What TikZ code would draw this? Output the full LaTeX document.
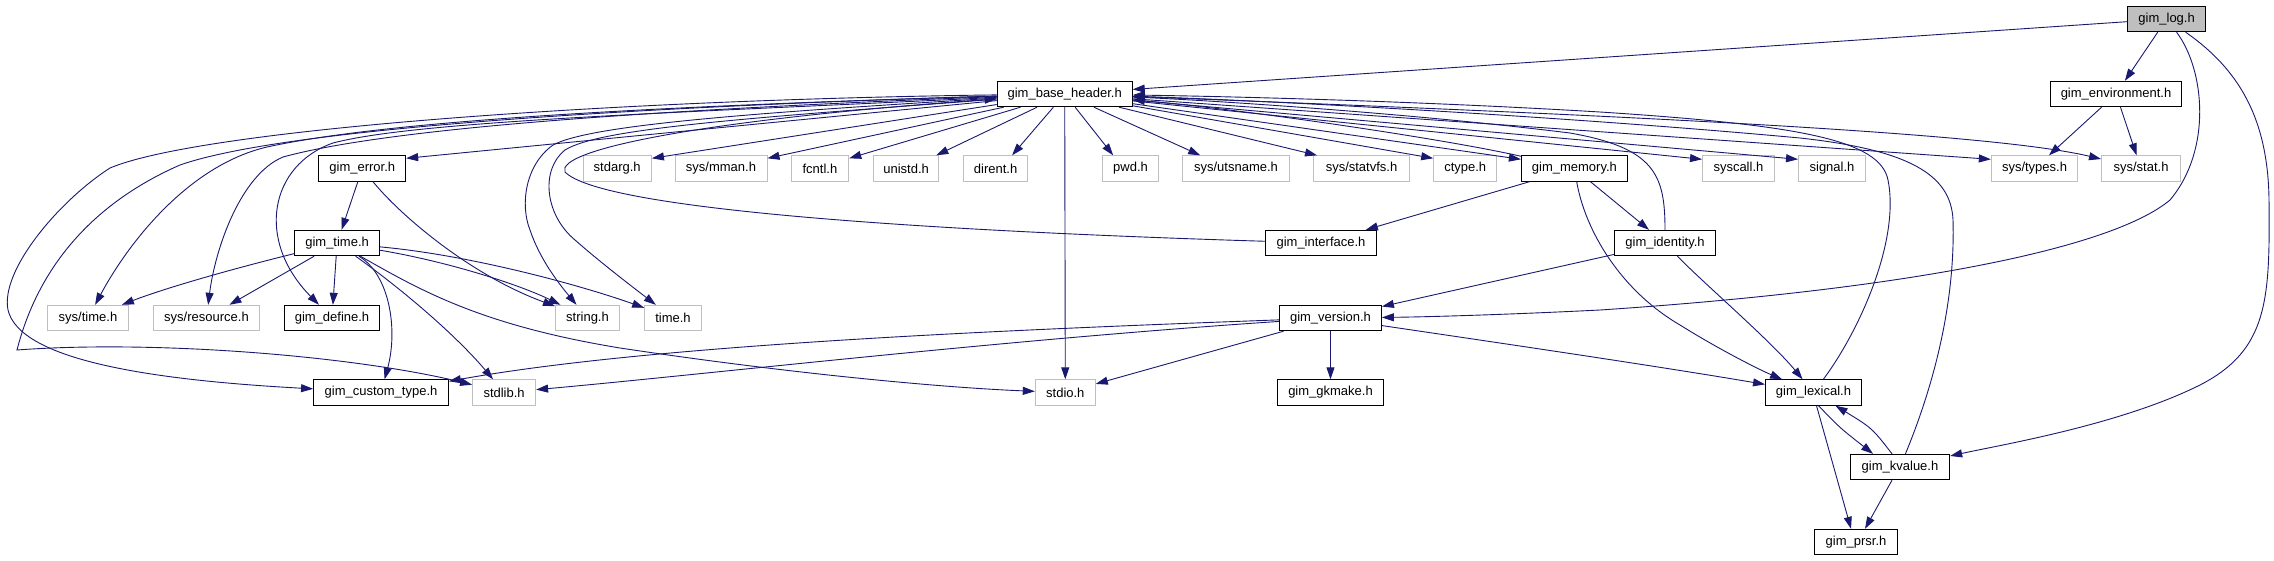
\documentclass[tikz,border=0pt]{standalone}
\usepackage{fontspec}
\setmainfont{Liberation Sans}
\usetikzlibrary{arrows.meta}
\definecolor{edgecol}{HTML}{191970}
\definecolor{grayline}{HTML}{BFBFBF}
\begin{document}
\begin{tikzpicture}[x=1pt,y=-1pt,
  hdr/.style={draw=black, line width=1pt, minimum height=25.4pt, inner sep=0pt, font=\fontsize{13}{15}\selectfont, text=black},
  sysh/.style={hdr, draw=grayline},
  cur/.style={hdr, fill=grayline},
  inc/.style={draw=edgecol, line width=0.9pt, -{Triangle[length=12pt,width=8pt]}}]
\fill[white] (0,0) rectangle (2274,560);
\useasboundingbox (0,0) rectangle (2274,560);
% row 0/1
\node[cur, minimum width=78pt] (log) at (2166.6,19) {gim\_log.h};
\node[hdr, minimum width=135pt] (base) at (1064.7,94) {gim\_base\_header.h};
\node[hdr, minimum width=131pt] (env) at (2116,94) {gim\_environment.h};
% row 2
\node[hdr, minimum width=86.7pt] (err) at (362.3,168.5) {gim\_error.h};
\node[sysh, minimum width=68.4pt] (stdarg) at (617.2,168.5) {stdarg.h};
\node[sysh, minimum width=92pt] (mman) at (721,168.5) {sys/mman.h};
\node[sysh, minimum width=57.7pt] (fcntl) at (819.9,168.5) {fcntl.h};
\node[sysh, minimum width=65.5pt] (unistd) at (906.1,168.5) {unistd.h};
\node[sysh, minimum width=64pt] (dirent) at (995.6,168.5) {dirent.h};
\node[sysh, minimum width=55.7pt] (pwd) at (1130.5,168.5) {pwd.h};
\node[sysh, minimum width=106.6pt] (utsname) at (1236,168.5) {sys/utsname.h};
\node[sysh, minimum width=96pt] (statvfs) at (1361.5,168.5) {sys/statvfs.h};
\node[sysh, minimum width=63pt] (ctype) at (1465.2,168.5) {ctype.h};
\node[hdr, minimum width=106pt] (mem) at (1574.4,168.5) {gim\_memory.h};
\node[sysh, minimum width=71.8pt] (syscall) at (1738.4,168.5) {syscall.h};
\node[sysh, minimum width=67pt] (signal) at (1832,168.5) {signal.h};
\node[sysh, minimum width=86.3pt] (types) at (2034.5,168.5) {sys/types.h};
\node[sysh, minimum width=79pt] (stat) at (2141,168.5) {sys/stat.h};
% row 3
\node[hdr, minimum width=84.8pt] (gtime) at (337.1,243) {gim\_time.h};
\node[hdr, minimum width=111pt] (iface) at (1321,243) {gim\_interface.h};
\node[hdr, minimum width=101.3pt] (ident) at (1665,243) {gim\_identity.h};
% row 4
\node[sysh, minimum width=81pt] (systime) at (88,318) {sys/time.h};
\node[sysh, minimum width=105.7pt] (sysres) at (206.5,318) {sys/resource.h};
\node[hdr, minimum width=95pt] (define) at (332,318) {gim\_define.h};
\node[sysh, minimum width=64pt] (string) at (587.5,318) {string.h};
\node[sysh, minimum width=56.7pt] (timeh) at (673,318) {time.h};
\node[hdr, minimum width=101.8pt] (version) at (1330.5,318) {gim\_version.h};
% row 5
\node[hdr, minimum width=134.8pt] (custom) at (381,392.5) {gim\_custom\_type.h};
\node[sysh, minimum width=63pt] (stdlib) at (504.1,392.5) {stdlib.h};
\node[sysh, minimum width=60pt] (stdio) at (1065.3,392.5) {stdio.h};
\node[hdr, minimum width=105.6pt] (gkmake) at (1330.5,392.5) {gim\_gkmake.h};
\node[hdr, minimum width=96pt] (lexical) at (1813.5,392.5) {gim\_lexical.h};
\node[hdr, minimum width=99.3pt] (kvalue) at (1900,467) {gim\_kvalue.h};
\node[hdr, minimum width=83pt] (prsr) at (1856,542) {gim\_prsr.h};

% gim_log.h
\draw[inc] (log) -- (base);
\draw[inc] (log) -- (env);
\draw[inc] (log) .. controls (2205,70) and (2212,150) .. (2170,200) .. controls (2110,250) and (1900,290) .. (1600,310) .. controls (1500,315) and (1420,317) .. (version);
\draw[inc] (log) .. controls (2240,70) and (2268,120) .. (2269,200) .. controls (2270,300) and (2268,350) .. (2200,385) .. controls (2120,425) and (2000,445) .. (kvalue);
% gim_environment.h
\draw[inc] (env) -- (types);
\draw[inc] (env) -- (stat);
% gim_base_header.h
\draw[inc] (base) -- ([yshift=-3pt]err.north east);
\draw[inc] (base) -- ([yshift=-3pt]stdarg.north east);
\draw[inc] (base) -- ([yshift=-3pt]mman.north east);
\draw[inc] (base) -- ([yshift=-3pt]fcntl.north east);
\draw[inc] (base) -- ([xshift=-3pt]unistd.north east);
\draw[inc] (base) -- ([xshift=-16pt]dirent.north east);
\draw[inc] (base) -- ([xshift=11pt]pwd.north west);
\draw[inc] (base) -- ([xshift=18pt]utsname.north west);
\draw[inc] (base) -- ([xshift=4pt]statvfs.north west);
\draw[inc] (base) -- ([yshift=-3pt]ctype.north west);
\draw[inc] (base) -- ([yshift=-4pt]mem.north west);
\draw[inc] (base) -- ([yshift=-4pt]syscall.north west);
\draw[inc] (base) -- ([yshift=-4pt]signal.north west);
\draw[inc] (base) -- ([yshift=-4pt]types.north west);
\draw[inc] (base) .. controls (1700,118) and (2000,135) .. (stat);
\draw[inc] (base) -- (stdio);
\draw[inc] (base) .. controls (750,113) and (590,125) .. (553,145) .. controls (525,165) and (520,205) .. (530,230) .. controls (540,260) and (560,285) .. (string);
\draw[inc] (base) .. controls (750,118) and (600,128) .. (565,150) .. controls (540,170) and (545,215) .. (575,240) .. controls (600,262) and (630,285) .. (timeh);
\draw[inc] (base) .. controls (700,105) and (400,118) .. (267,147) .. controls (190,165) and (130,240) .. (systime);
\draw[inc] (base) .. controls (700,108) and (400,125) .. (283,157) .. controls (240,175) and (215,250) .. (sysres);
\draw[inc] (base) .. controls (700,112) and (420,120) .. (333,143) .. controls (270,165) and (255,240) .. (define);
\draw[inc] (base) .. controls (600,100) and (200,130) .. (110,168) .. controls (60,200) and (0,270) .. (8,310) .. controls (20,360) and (150,380) .. (custom);
\draw[inc] (base) .. controls (600,108) and (280,130) .. (180,165) .. controls (100,200) and (40,260) .. (17,350) .. controls (150,340) and (350,355) .. (stdlib);
% gim_error.h
\draw[inc] (err) -- (gtime);
\draw[inc] (err) .. controls (400,215) and (470,275) .. (string);
% gim_time.h
\draw[inc] (gtime) .. controls (220,272) and (160,290) .. (systime);
\draw[inc] (gtime) -- (sysres);
\draw[inc] (gtime) -- (define);
\draw[inc] (gtime) .. controls (390,275) and (398,330) .. (custom);
\draw[inc] (gtime) .. controls (410,295) and (460,340) .. (stdlib);
\draw[inc] (gtime) .. controls (420,290) and (480,325) .. (620,348) .. controls (800,375) and (950,388) .. (stdio);
\draw[inc] (gtime) .. controls (450,262) and (520,285) .. (string);
\draw[inc] (gtime) .. controls (470,255) and (580,285) .. (timeh);
% gim_interface.h
\draw[inc] (iface) .. controls (900,230) and (600,208) .. (565,172) .. controls (555,150) and (700,120) .. (base);
% gim_memory.h
\draw[inc] (mem) .. controls (1450,140) and (1250,110) .. (base);
\draw[inc] (mem) -- (iface);
\draw[inc] (mem) -- (ident);
\draw[inc] (mem) .. controls (1585,230) and (1620,290) .. (1680,325) .. controls (1720,350) and (1760,370) .. (lexical);
% gim_identity.h
\draw[inc] (ident) .. controls (1665,175) and (1655,148) .. (1570,133) .. controls (1400,112) and (1200,100) .. (base);
\draw[inc] (ident) -- (version);
\draw[inc] (ident) .. controls (1700,280) and (1770,340) .. (lexical);
% gim_version.h
\draw[inc] (version) -- (stdio);
\draw[inc] (version) -- (gkmake);
\draw[inc] (version) .. controls (1500,343) and (1650,365) .. (lexical);
\draw[inc] (version) .. controls (1000,330) and (650,345) .. ([yshift=-2pt]custom.north east);
\draw[inc] (version) .. controls (1000,340) and (700,375) .. (stdlib);
% gim_lexical.h
\draw[inc] (lexical) .. controls (1860,330) and (1900,240) .. (1888,180) .. controls (1880,140) and (1800,125) .. (1600,112) .. controls (1400,100) and (1200,96) .. (base);
\draw[inc] ([xshift=5pt]lexical.south) .. controls (1840,428) .. ([xshift=-27pt]kvalue.north);
\draw[inc] ([xshift=3pt]lexical.south) -- ([xshift=-5pt]prsr.north);
% gim_kvalue.h
\draw[inc] ([xshift=-8pt]kvalue.north) .. controls (1872,428) .. ([xshift=22pt]lexical.south);
\draw[inc] ([xshift=-8pt]kvalue.south) -- ([xshift=9pt]prsr.north);
\draw[inc] (kvalue) .. controls (1940,370) and (1955,290) .. (1953,220) .. controls (1951,175) and (1910,150) .. (1800,138) .. controls (1550,115) and (1250,100) .. (base);
\end{tikzpicture}
\end{document}
